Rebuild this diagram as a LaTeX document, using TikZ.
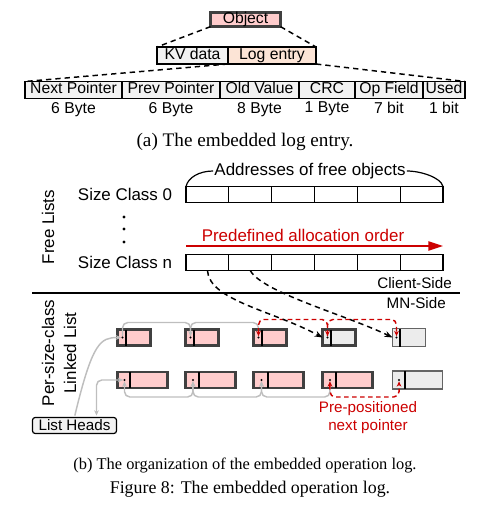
\documentclass[tikz,border=0pt]{standalone}
\usepackage{fontspec}
\setmainfont{Liberation Serif}
\setsansfont{Liberation Sans}
\usetikzlibrary{arrows.meta}
\usetikzlibrary{positioning}

\definecolor{objpink}{RGB}{255,204,204}
\definecolor{emptygrey}{RGB}{236,236,236}
\definecolor{fieldgrey}{RGB}{242,242,242}
\definecolor{logpeach}{RGB}{252,228,214}
\definecolor{framegrey}{RGB}{64,64,64}
\definecolor{thingrey}{RGB}{100,100,100}
\definecolor{linkgrey}{RGB}{190,190,190}
\definecolor{orderred}{RGB}{204,0,0}

\tikzset{
  toplbl/.style={font=\sffamily\fontsize{11.8}{14}\selectfont},
  biglbl/.style={font=\sffamily\fontsize{12.7}{15}\selectfont, inner sep=0.75pt},
  smalllbl/.style={font=\sffamily\fontsize{11.4}{13.5}\selectfont, inner sep=0.75pt},
  capt/.style={font=\fontsize{14.4}{17}\selectfont, inner sep=0.75pt},
  field/.style={draw, line width=0.9pt, fill=fieldgrey, minimum height=12.75pt, inner sep=0pt, outer sep=0pt, text height=8.3pt, text depth=2.4pt, toplbl},
  cell/.style={draw, line width=0.9pt, fill=white, minimum width=32.1pt, minimum height=12pt, inner sep=0pt, outer sep=0pt},
  objred/.style={draw=framegrey, line width=2.2pt, fill=objpink, minimum height=12pt, inner sep=0pt, outer sep=0pt},
  objgrey/.style={objred, fill=emptygrey},
  objthin/.style={draw=thingrey, line width=0.9pt, fill=emptygrey, minimum height=13.5pt, inner sep=0pt, outer sep=0pt},
  divider/.style={line width=1.1pt},
  zoomline/.style={line width=1.1pt, dash pattern=on 4pt off 3pt},
  greylink/.style={draw=linkgrey, line width=1.1pt, rounded corners=4pt, shorten >=1pt, shorten <=1pt, >={Stealth[length=4pt,width=3.5pt]}},
  redlink/.style={draw=orderred, line width=1.1pt, dash pattern=on 3.5pt off 2.5pt, rounded corners=4pt, shorten >=1pt, shorten <=1pt, >={Stealth[length=4pt,width=3.5pt]}},
  feedlink/.style={line width=1.1pt, dash pattern=on 4pt off 3pt, -{Stealth[length=6pt,width=4.5pt]}},
}

\begin{document}
\begin{tikzpicture}[x=0.75pt,y=0.75pt,yscale=-1,xscale=1]
\useasboundingbox (0,0) rectangle (489,514);

% Object and its two parts
\node[objred, toplbl, minimum width=52.5pt, minimum height=10.5pt, text height=8.3pt, text depth=2.4pt] (object) at (245.5,19.5) {Object};
\node[field, minimum width=53.25pt] (kv) at (192.5,55.5) {KV data};
\node[field, fill=logpeach, minimum width=66pt, right=0pt of kv] (logentry) {Log entry};

% Log entry fields
\node[field, minimum width=72.75pt, anchor=west] (nextptr) at (25,90) {Next Pointer};
\node[field, minimum width=73.5pt, right=0pt of nextptr] (prevptr) {Prev Pointer};
\node[field, minimum width=59.25pt, right=0pt of prevptr] (oldval) {Old Value};
\node[field, minimum width=42pt, right=0pt of oldval] (crc) {CRC};
\node[field, minimum width=51pt, right=0pt of crc] (opfield) {Op Field};
\node[field, minimum width=31.5pt, right=0pt of opfield] (used) {Used};
\foreach \f/\t in {nextptr/6 Byte, prevptr/6 Byte, oldval/8 Byte, crc/1 Byte, opfield/7 bit, used/1 bit}
  \node[toplbl, anchor=north, inner sep=2.5pt] (\f-size) at (\f.south) {\t};

% Dashed zoom lines
\draw[zoomline] (object.south west) -- (kv.north west);
\draw[zoomline] (object.south east) -- (logentry.north east);
\draw[zoomline] (logentry.south west) -- (nextptr.north west);
\draw[zoomline] (logentry.south east) -- (used.north east);

% Text Node
\node[capt] (capa) at (245,142) {(a) The embedded log entry.};

% Free lists
\node[biglbl] (addr) at (310,171) {Addresses of free objects};
\foreach \i in {1,...,6}{
  \node[cell] (cellzero\i) at ({186+42.83*(\i-0.5)},194.5) {};
  \node[cell] (celln\i) at ({186+42.83*(\i-0.5)},262.5) {};
}
\draw[line width=0.9pt] (cellzero1.north west) .. controls +(2,-9) and +(-14,0) .. (addr.west);
\draw[line width=0.9pt] (addr.east) .. controls +(14,0) and +(-2,-9) .. (cellzero6.north east);
\node[biglbl, left=9.5pt of cellzero1] (sizezero) {Size Class 0};
\node[biglbl, left=9.5pt of celln1] (sizen) {Size Class n};
\foreach \y in {217,229,242}
  \fill (124,\y) circle (1.2pt);
\node[biglbl, rotate=90] (freelists) at (48,227) {Free Lists};

% Allocation order arrow
\coordinate (orderstart) at (186,246);
\coordinate (orderend) at (443,246);
\draw[orderred, line width=1.1pt, -{Triangle[length=11pt,width=7pt]}] (orderstart) -- (orderend);
\node[biglbl, text=orderred] (ordertext) at (303,235) {Predefined allocation order};

% Client / MN split
\node[smalllbl, anchor=east] (client) at (453,283) {Client-Side};
\coordinate (sideleft) at (32,293);
\coordinate (sideright) at (460,293);
\draw[line width=0.9pt] (sideleft) -- (sideright);
\node[smalllbl, anchor=east] (mnside) at (447,303) {MN-Side};

% Linked lists
\node[biglbl, rotate=90, align=center, font=\sffamily\fontsize{12.7}{16.5}\selectfont] (perclass) at (59,353) {Per-size-class\\Linked List};
\foreach \i/\x/\d/\p/\s in {1/117.5/6.4/3.75/objred, 2/185.5/6.4/3.75/objred, 3/253.5/6.4/3.75/objred, 4/322.5/6.4/3.75/objgrey, 5/392.5/5.55/3/objthin}{
  \node[\s, minimum width=24.75pt, anchor=west] (obja\i) at (\x,337.5) {};
  \draw[divider] ([xshift=\d pt]obja\i.north west) -- ([xshift=\d pt]obja\i.south west);
  \coordinate (ptra\i) at ([xshift=\p pt]obja\i.west);
}
\foreach \i/\x/\d/\p/\s in {1/117.5/9.4/5.25/objred, 2/185.5/10.1/5.6/objred, 3/253.5/10.9/6/objred, 4/322.5/10.1/5.6/objred, 5/392.5/9.3/4.9/objthin}{
  \node[\s, minimum width=37.5pt, anchor=west] (objb\i) at (\x,380) {};
  \draw[divider] ([xshift=\d pt]objb\i.north west) -- ([xshift=\d pt]objb\i.south west);
  \coordinate (ptrb\i) at ([xshift=\p pt]objb\i.west);
}

% List heads
\node[draw, line width=0.9pt, fill=fieldgrey, rounded corners=2pt, minimum width=63pt, minimum height=12pt, inner sep=0pt, smalllbl] (heads) at (74.5,425.5) {List Heads};

% Links of the lists
\draw[greylink, ->] (heads.north) .. controls +(18,-75) and +(-22,0) .. (ptra1);
\draw[greylink, <->] ([xshift=16.5pt]heads.north) |- (ptrb1);
\draw[greylink, ->] (ptra1) -- ++(0,-15) -| (ptra2);
\draw[greylink, ->] (ptra2) -- ++(0,-15) -| (ptra3);
\draw[redlink, <->] (ptra3) -- ++(0,-18) -| (ptra4);
\draw[redlink, ->] (ptra4) -- ++(0,-18) -| (ptra5);
\draw[greylink, <->] (ptrb1) -- ++(0,17) -| (ptrb2);
\draw[greylink, <->] (ptrb2) -- ++(0,17) -| (ptrb3);
\draw[greylink, <->] (ptrb3) -- ++(0,17) -| (ptrb4);
\draw[redlink, <->] (ptrb4) -- ++(0,17) -| (ptrb5);

% Allocation from the free list
\draw[feedlink] (celln1.south) .. controls +(2,30) and +(-50,-27) .. (obja4.west);
\draw[feedlink] (celln2.south) .. controls +(12,22) and +(-45,-22) .. (obja5.west);

% Pointer dots
\foreach \i in {1,...,5}{
  \fill (ptra\i) circle (0.9pt);
  \fill (ptrb\i) circle (0.9pt);
}

\node[smalllbl, text=orderred, align=center] (prepos) at (368,418) {Pre-positioned\\next pointer};

% Captions
\node[capt, font=\fontsize{12.3}{15}\selectfont] (capb) at (245,465) {(b) The organization of the embedded operation log.};
\node[capt, font=\fontsize{13.4}{16}\selectfont] (capfig) at (250,489) {Figure 8: The embedded operation log.};

\end{tikzpicture}
\end{document}
